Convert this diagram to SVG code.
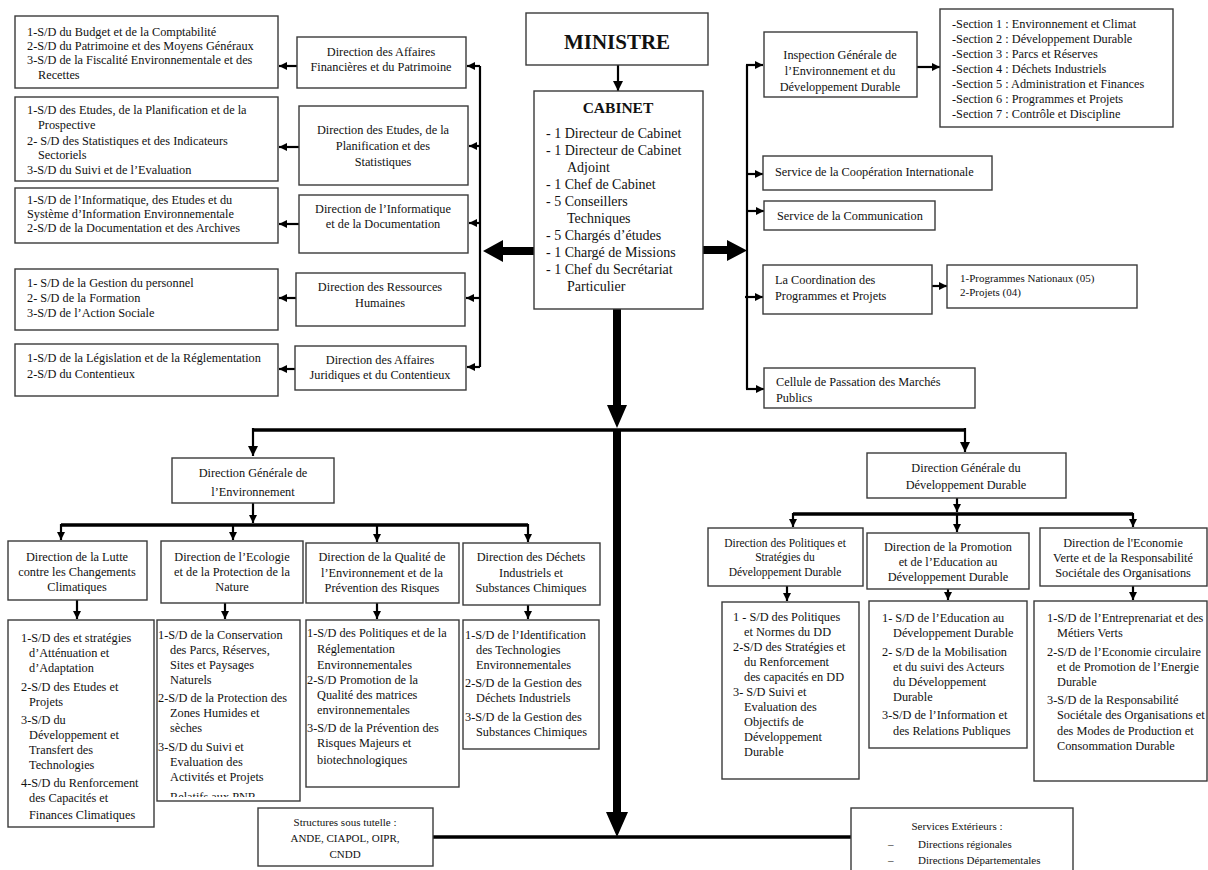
<svg xmlns="http://www.w3.org/2000/svg" width="1208" height="870" viewBox="0 0 1208 870">
<style>
text{font-family:"Liberation Serif","Times New Roman",serif;fill:#111;font-size:12.3px}
.c{text-anchor:middle}
.s{font-size:11.5px}
.xs{font-size:11px}
.cab{font-size:14px}
.b{font-weight:bold}
rect{fill:#fff;stroke:#3a3a3a;stroke-width:1.4}
.ln{fill:none;stroke:#000;stroke-width:2.2}
.bus{fill:none;stroke:#000;stroke-width:3.5}
.th{fill:#000;stroke:none}
</style>
<defs>
<marker id="ah" viewBox="0 0 10 10" refX="10" refY="5" markerWidth="8" markerHeight="8" markerUnits="userSpaceOnUse" orient="auto"><path d="M0,0 L10,5 L0,10 z" fill="#000"/></marker>
<marker id="ahb" viewBox="0 0 10 10" refX="10" refY="5" markerWidth="10" markerHeight="10" markerUnits="userSpaceOnUse" orient="auto"><path d="M0,0 L10,5 L0,10 z" fill="#000"/></marker>
<clipPath id="clipB2"><rect x="157" y="620" width="143" height="177"/></clipPath>
</defs>

<g id="connectors">
<path class="ln" d="M618,65 V91" marker-end="url(#ahb)"/>
<path class="ln" d="M480,66 V367" stroke-width="2.6"/>
<path class="ln" d="M480,66 H467" marker-end="url(#ah)"/>
<path class="ln" d="M480,146 H469" marker-end="url(#ah)"/>
<path class="ln" d="M480,223 H469" marker-end="url(#ah)"/>
<path class="ln" d="M480,298 H466" marker-end="url(#ah)"/>
<path class="ln" d="M480,367 H467" marker-end="url(#ah)"/>
<path class="ln" d="M297,66 H279" marker-end="url(#ah)"/>
<path class="ln" d="M299,147 H279" marker-end="url(#ah)"/>
<path class="ln" d="M299,224 H279" marker-end="url(#ah)"/>
<path class="ln" d="M296,298 H279" marker-end="url(#ah)"/>
<path class="ln" d="M295,369 H279" marker-end="url(#ah)"/>
<path class="ln" d="M747,65 V389" stroke-width="2.6"/>
<path class="ln" d="M746,65 H763" marker-end="url(#ah)"/>
<path class="ln" d="M747,174 H763" marker-end="url(#ah)"/>
<path class="ln" d="M747,211 H764" marker-end="url(#ah)"/>
<path class="ln" d="M745,297 H763" marker-end="url(#ah)"/>
<path class="ln" d="M746,389 H764" marker-end="url(#ah)"/>
<path class="ln" d="M917,67 H940" marker-end="url(#ah)"/>
<path class="ln" d="M932,286 H947" marker-end="url(#ah)"/>
<path class="th" d="M534,247 H503 V240 L483,251 L503,262 V255 H534 Z"/>
<path class="th" d="M703,246 H727 V240 L747,250.5 L727,261 V254 H703 Z"/>
<path class="th" d="M613,309 V405 H607 L617,428 L627,405 H621 V309 Z"/>
<path class="bus" d="M253,430 H965" stroke-width="4"/>
<path class="th" d="M613,430 V812 H606 L617,837 L628,812 H621 V430 Z"/>
<path class="bus" d="M433,837 H851" stroke-width="4"/>
<path class="ln" d="M253,428 V456" stroke-width="3" marker-end="url(#ahb)"/>
<path class="ln" d="M965,428 V452" stroke-width="3" marker-end="url(#ahb)"/>
<path class="ln" d="M253,503 V523" marker-end="url(#ah)"/>
<path class="bus" d="M61,525 H528"/>
<path class="ln" d="M61,524 V540" marker-end="url(#ah)"/>
<path class="ln" d="M233,524 V540" marker-end="url(#ah)"/>
<path class="ln" d="M377,524 V542" marker-end="url(#ah)"/>
<path class="ln" d="M528,524 V542" marker-end="url(#ah)"/>
<path class="ln" d="M77,600 V619" marker-end="url(#ah)"/>
<path class="ln" d="M225,603 V619" marker-end="url(#ah)"/>
<path class="ln" d="M377,603 V619" marker-end="url(#ah)"/>
<path class="ln" d="M528,605 V619" marker-end="url(#ah)"/>
<path class="ln" d="M957,498 V512" marker-end="url(#ah)"/>
<path class="bus" d="M793,514 H1133"/>
<path class="ln" d="M793,513 V527" marker-end="url(#ah)"/>
<path class="ln" d="M957,513 V532" marker-end="url(#ah)"/>
<path class="ln" d="M1133,513 V527" marker-end="url(#ah)"/>
<path class="ln" d="M787,586 V601" marker-end="url(#ah)"/>
<path class="ln" d="M948,589 V600" marker-end="url(#ah)"/>
<path class="ln" d="M1133,586 V600" marker-end="url(#ah)"/>
</g>

<g id="ministre">
<rect x="526" y="13" width="182" height="52"/>
<text class="c b" x="617" y="49" style="font-size:21px">MINISTRE</text>
</g>

<g id="cabinet">
<rect x="534" y="91" width="169" height="218"/>
<text class="c b" x="618" y="113" style="font-size:15.5px">CABINET</text>
<text class="cab" x="546" y="138">- 1 Directeur de Cabinet</text>
<text class="cab" x="546" y="155">- 1 Directeur de Cabinet</text>
<text class="cab" x="567" y="172">Adjoint</text>
<text class="cab" x="546" y="189">- 1 Chef de Cabinet</text>
<text class="cab" x="546" y="206">- 5 Conseillers</text>
<text class="cab" x="567" y="223">Techniques</text>
<text class="cab" x="546" y="240">- 5 Chargés d’études</text>
<text class="cab" x="546" y="257">- 1 Chargé de Missions</text>
<text class="cab" x="546" y="274">- 1 Chef du Secrétariat</text>
<text class="cab" x="567" y="291">Particulier</text>
</g>

<g id="sd-daf">
<rect x="15" y="16" width="263" height="72"/>
<text x="27" y="36">1-S/D du Budget et de la Comptabilité</text>
<text x="27" y="50">2-S/D du Patrimoine et des Moyens Généraux</text>
<text x="27" y="64">3-S/D de la Fiscalité Environnementale et des</text>
<text x="38" y="79">Recettes</text>
</g>
<g id="sd-deps">
<rect x="15" y="97" width="263" height="84"/>
<text x="27" y="114">1-S/D des Etudes, de la Planification et de la</text>
<text x="38" y="129">Prospective</text>
<text x="27" y="145">2- S/D des Statistiques et des Indicateurs</text>
<text x="38" y="159">Sectoriels</text>
<text x="27" y="174">3-S/D du Suivi et de l’Evaluation</text>
</g>
<g id="sd-did">
<rect x="15" y="188" width="263" height="55"/>
<text x="27" y="204">1-S/D de l’Informatique, des Etudes  et du</text>
<text x="27" y="218">Système d’Information Environnementale</text>
<text x="27" y="232">2-S/D de la Documentation et des Archives</text>
</g>
<g id="sd-drh">
<rect x="15" y="269" width="263" height="61"/>
<text x="27" y="287">1- S/D de la Gestion du personnel</text>
<text x="27" y="302">2- S/D de la Formation</text>
<text x="27" y="317">3-S/D de l’Action Sociale</text>
</g>
<g id="sd-dajc">
<rect x="15" y="344" width="263" height="52"/>
<text x="27" y="362">1-S/D de la Législation et de la Réglementation</text>
<text x="27" y="378">2-S/D du Contentieux</text>
</g>

<g id="dafp">
<rect x="297" y="37" width="169" height="51"/>
<text class="c" x="381" y="56">Direction des Affaires</text>
<text class="c" x="381" y="71">Financières et du Patrimoine</text>
</g>
<g id="deps">
<rect x="299" y="106" width="169" height="79"/>
<text class="c" x="383" y="134">Direction des Etudes, de la</text>
<text class="c" x="383" y="150">Planification et des</text>
<text class="c" x="383" y="166">Statistiques</text>
</g>
<g id="did">
<rect x="299" y="195" width="169" height="58"/>
<text class="c" x="383" y="213">Direction de l’Informatique</text>
<text class="c" x="383" y="228">et de la Documentation</text>
</g>
<g id="drh">
<rect x="296" y="273" width="169" height="53"/>
<text class="c" x="380" y="291">Direction des Ressources</text>
<text class="c" x="380" y="307">Humaines</text>
</g>
<g id="dajc">
<rect x="295" y="346" width="171" height="44"/>
<text class="c" x="380" y="364">Direction des Affaires</text>
<text class="c" x="380" y="379">Juridiques et du Contentieux</text>
</g>

<g id="igedd">
<rect x="764" y="32" width="153" height="65"/>
<text class="c" x="840" y="59">Inspection Générale de</text>
<text class="c" x="840" y="75">l’Environnement et du</text>
<text class="c" x="840" y="91">Développement Durable</text>
</g>
<g id="sections">
<rect x="940" y="9" width="233" height="118"/>
<text x="952" y="28">-Section 1 : Environnement et Climat</text>
<text x="952" y="43">-Section 2 : Développement Durable</text>
<text x="952" y="58">-Section 3 : Parcs et Réserves</text>
<text x="952" y="73">-Section 4 : Déchets  Industriels</text>
<text x="952" y="88">-Section 5 : Administration et Finances</text>
<text x="952" y="103">-Section 6 : Programmes et Projets</text>
<text x="952" y="118">-Section 7 : Contrôle et Discipline</text>
</g>
<g id="coop">
<rect x="763" y="156" width="229" height="34"/>
<text x="775" y="176">Service de la Coopération Internationale</text>
</g>
<g id="comm">
<rect x="764" y="201" width="171" height="29"/>
<text x="777" y="220">Service de la Communication</text>
</g>
<g id="coord">
<rect x="763" y="265" width="169" height="49"/>
<text x="775" y="284">La Coordination des</text>
<text x="775" y="300">Programmes et Projets</text>
</g>
<g id="progs">
<rect x="947" y="265" width="190" height="43"/>
<text class="xs" x="960" y="282">1-Programmes Nationaux (05)</text>
<text class="xs" x="960" y="296">2-Projets (04)</text>
</g>
<g id="cpm">
<rect x="764" y="368" width="211" height="40"/>
<text x="776" y="386">Cellule de Passation des Marchés</text>
<text x="776" y="402">Publics</text>
</g>

<g id="dge">
<rect x="172" y="458" width="162" height="45"/>
<text class="c" x="253" y="477">Direction Générale de</text>
<text class="c" x="253" y="496">l’Environnement</text>
</g>
<g id="dlcc">
<rect x="8" y="541" width="139" height="59"/>
<text class="c" x="77" y="561">Direction de la Lutte</text>
<text class="c" x="77" y="576">contre les Changements</text>
<text class="c" x="77" y="591">Climatiques</text>
</g>
<g id="depn">
<rect x="161" y="541" width="142" height="62"/>
<text class="c" x="232" y="561">Direction de l’Ecologie</text>
<text class="c" x="232" y="576">et de la Protection de la</text>
<text class="c" x="232" y="591">Nature</text>
</g>
<g id="dqepr">
<rect x="306" y="543" width="153" height="60"/>
<text class="c" x="382" y="561">Direction de la Qualité de</text>
<text class="c" x="382" y="577">l’Environnement et de la</text>
<text class="c" x="382" y="592">Prévention des Risques</text>
</g>
<g id="ddisc">
<rect x="463" y="543" width="137" height="62"/>
<text class="c" x="531" y="561">Direction des Déchets</text>
<text class="c" x="531" y="577">Industriels et</text>
<text class="c" x="531" y="592">Substances Chimiques</text>
</g>

<g id="sd-dlcc">
<rect x="8" y="620" width="146" height="207"/>
<text x="21" y="642">1-S/D des  et stratégies</text>
<text x="29" y="657">d’Atténuation et</text>
<text x="29" y="672">d’Adaptation</text>
<text x="21" y="691">2-S/D des Etudes et</text>
<text x="29" y="706">Projets</text>
<text x="21" y="724">3-S/D du</text>
<text x="29" y="739">Développement et</text>
<text x="29" y="754">Transfert des</text>
<text x="29" y="769">Technologies</text>
<text x="21" y="787">4-S/D du Renforcement</text>
<text x="29" y="802">des Capacités et</text>
<text x="29" y="819">Finances  Climatiques</text>
</g>
<g id="sd-depn">
<rect x="157" y="620" width="143" height="181"/>
<g clip-path="url(#clipB2)">
<text x="158" y="639">1-S/D de la Conservation</text>
<text x="170" y="654">des Parcs, Réserves,</text>
<text x="170" y="669">Sites et Paysages</text>
<text x="170" y="684">Naturels</text>
<text x="158" y="702">2-S/D de la Protection des</text>
<text x="170" y="717">Zones Humides et</text>
<text x="170" y="732">sèches</text>
<text x="158" y="751">3-S/D du Suivi et</text>
<text x="170" y="766">Evaluation des</text>
<text x="170" y="781">Activités et Projets</text>
<text x="170" y="801">Relatifs aux PNR</text>
</g>
</g>
<g id="sd-dqepr">
<rect x="306" y="620" width="153" height="167"/>
<text x="307" y="637">1-S/D des Politiques et de la</text>
<text x="317" y="653">Réglementation</text>
<text x="317" y="669">Environnementales</text>
<text x="307" y="684">2-S/D Promotion de la</text>
<text x="317" y="699">Qualité des matrices</text>
<text x="317" y="714">environnementales</text>
<text x="307" y="732">3-S/D de la Prévention des</text>
<text x="317" y="747">Risques Majeurs et</text>
<text x="317" y="764">biotechnologiques</text>
</g>
<g id="sd-ddisc">
<rect x="463" y="620" width="136" height="129"/>
<text x="465" y="639">1-S/D de l’Identification</text>
<text x="476" y="654">des Technologies</text>
<text x="476" y="669">Environnementales</text>
<text x="465" y="687">2-S/D de la Gestion des</text>
<text x="476" y="702">Déchets Industriels</text>
<text x="465" y="721">3-S/D de la Gestion des</text>
<text x="476" y="736">Substances Chimiques</text>
</g>

<g id="dgdd">
<rect x="867" y="453" width="199" height="45"/>
<text class="c" x="966" y="472">Direction Générale du</text>
<text class="c" x="966" y="489">Développement Durable</text>
</g>
<g id="dpsdd">
<rect x="708" y="528" width="155" height="58"/>
<text class="c s" x="785" y="547">Direction des Politiques et</text>
<text class="c s" x="785" y="561">Stratégies du</text>
<text class="c s" x="785" y="576">Développement Durable</text>
</g>
<g id="dpedd">
<rect x="867" y="533" width="162" height="56"/>
<text class="c" x="948" y="551">Direction de la Promotion</text>
<text class="c" x="948" y="566">et de l’Education au</text>
<text class="c" x="948" y="581">Développement Durable</text>
</g>
<g id="devrso">
<rect x="1040" y="528" width="167" height="58"/>
<text class="c" x="1123" y="547">Direction de l'Economie</text>
<text class="c" x="1123" y="562">Verte et de la Responsabilité</text>
<text class="c" x="1123" y="577">Sociétale  des Organisations</text>
</g>
<g id="sd-dpsdd">
<rect x="722" y="602" width="137" height="177"/>
<text x="733" y="621">1 - S/D des Politiques</text>
<text x="744" y="636">et Normes du DD</text>
<text x="733" y="651">2-S/D des Stratégies et</text>
<text x="744" y="666">du Renforcement</text>
<text x="744" y="681">des capacités en DD</text>
<text x="733" y="696">3- S/D  Suivi et</text>
<text x="744" y="711">Evaluation  des</text>
<text x="744" y="726">Objectifs de</text>
<text x="744" y="741">Développement</text>
<text x="744" y="756">Durable</text>
</g>
<g id="sd-dpedd">
<rect x="869" y="601" width="158" height="147"/>
<text x="882" y="622">1- S/D de l’Education au</text>
<text x="893" y="637">Développement Durable</text>
<text x="882" y="656">2- S/D de la Mobilisation</text>
<text x="893" y="671">et du suivi des Acteurs</text>
<text x="893" y="686">du Développement</text>
<text x="893" y="701">Durable</text>
<text x="882" y="719">3-S/D de l’Information et</text>
<text x="893" y="735">des Relations Publiques</text>
</g>
<g id="sd-devrso">
<rect x="1034" y="601" width="173" height="180"/>
<text x="1047" y="622">1-S/D de l’Entreprenariat  et des</text>
<text x="1057" y="637">Métiers Verts</text>
<text x="1047" y="656">2-S/D de l’Economie circulaire</text>
<text x="1057" y="671">et de Promotion de l’Energie</text>
<text x="1057" y="686">Durable</text>
<text x="1047" y="704">3-S/D de la Responsabilité</text>
<text x="1057" y="719">Sociétale des Organisations et</text>
<text x="1057" y="735">des Modes de Production et</text>
<text x="1057" y="750">Consommation  Durable</text>
</g>

<g id="tutelle">
<rect x="258" y="808" width="175" height="58"/>
<text class="c xs" x="345" y="826">Structures sous tutelle :</text>
<text class="c xs" x="345" y="842">ANDE, CIAPOL, OIPR,</text>
<text class="c xs" x="345" y="858">CNDD</text>
</g>
<g id="exterieurs">
<rect x="851" y="808" width="222" height="66"/>
<text class="c xs" x="957" y="830">Services Extérieurs :</text>
<text class="xs" x="888" y="848">–</text>
<text class="xs" x="918" y="848">Directions régionales</text>
<text class="xs" x="888" y="864">–</text>
<text class="xs" x="918" y="864">Directions Départementales</text>
</g>
</svg>
